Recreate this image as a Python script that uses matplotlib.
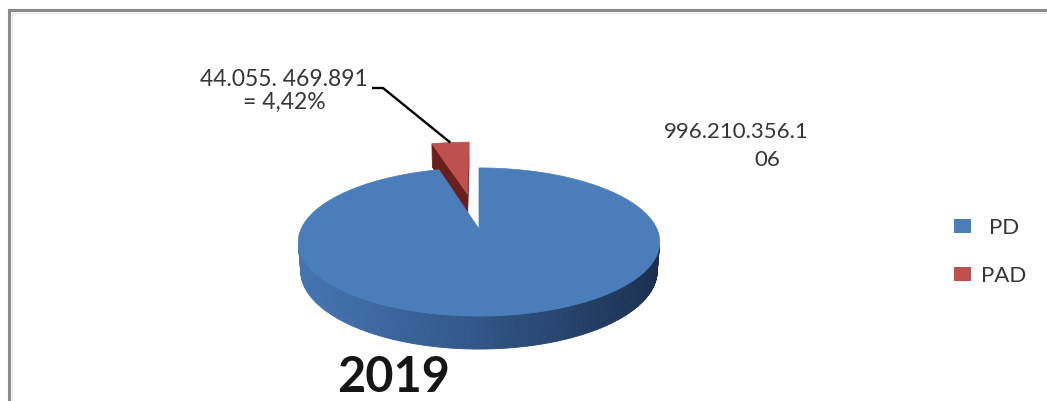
"""
3D pie chart: PD vs PAD (2019)
"""
import numpy as np
import matplotlib
matplotlib.use("Agg")
import matplotlib.pyplot as plt
from matplotlib.patches import Polygon, Rectangle
from matplotlib.colors import to_rgb

# ── data ──
categories = ["PD", "PAD"]
values = [996210356106, 44055469891]
value_labels = ["996.210.356.1", "06"]
pad_label = "44.055. 469.891\n= 4,42%"
explode = [0.0, 0.54]
top_colors = ["#4a7dba", "#c0504d"]
cut_colors = ["#2c4f80", "#6a1f1e"]
title = "2019"

# ── camera (perspective like Excel 3D pie) ──
ELEV = np.deg2rad(23.8)
DIST = 5.21
FOCAL = 927
CX, CY = 479, 230
DEPTH = 0.177
CAM = np.array([0.0, -DIST * np.cos(ELEV), DIST * np.sin(ELEV)])

plt.rcParams["font.family"] = ["Lato", "DejaVu Sans"]
TXT = "#363636"


def project(X, Y, Z):
    c, s = np.cos(ELEV), np.sin(ELEV)
    X, Y, Z = np.asarray(X, float), np.asarray(Y, float), np.asarray(Z, float)
    d = Y * c - Z * s + DIST
    v = Y * s + Z * c
    return CX + FOCAL * X / d, CY - FOCAL * v / d


def wall_color(f):
    stops = [(0.0, (70, 117, 178)), (0.45, (51, 89, 140)), (1.0, (27, 48, 80))]
    for (f0, c0), (f1, c1) in zip(stops[:-1], stops[1:]):
        if f <= f1:
            t = (f - f0) / (f1 - f0)
            return tuple((np.array(c0) + t * (np.array(c1) - np.array(c0))) / 255)
    return tuple(np.array(stops[-1][1]) / 255)


fig = plt.figure(figsize=(10.47, 4.02), dpi=100)
ax = fig.add_axes([0, 0, 1, 1])
ax.set_xlim(0, 1047)
ax.set_ylim(402, 0)
ax.axis("off")

# slice angles: start at 12 o'clock, clockwise (like Excel)
total = float(sum(values))
slices = []
cur = 90.0
for i, v in enumerate(values):
    a0 = cur - 360.0 * v / total
    a1 = cur
    cur = a0
    mid = np.deg2rad((a0 + a1) / 2)
    ox, oy = explode[i] * np.cos(mid), explode[i] * np.sin(mid)
    slices.append(dict(i=i, a0=a0, a1=a1, ox=ox, oy=oy, mid=mid))

# far slices first
slices.sort(key=lambda s: -s["oy"])

for sl in slices:
    i, ox, oy = sl["i"], sl["ox"], sl["oy"]
    t = np.deg2rad(np.linspace(sl["a0"], sl["a1"], 400))

    # radial cut faces
    for a, sign in ((sl["a0"], 1), (sl["a1"], -1)):
        ar = np.deg2rad(a)
        n = sign * np.array([np.sin(ar), -np.cos(ar), 0.0])
        if n @ (CAM - np.array([ox, oy, 0.0])) > 0:
            X = [ox, ox + np.cos(ar), ox + np.cos(ar), ox]
            Y = [oy, oy + np.sin(ar), oy + np.sin(ar), oy]
            Z = [0, 0, -DEPTH, -DEPTH]
            sx, sy = project(X, Y, Z)
            ax.add_patch(Polygon(np.c_[sx, sy], closed=True, fc=cut_colors[i],
                                 ec=cut_colors[i], lw=0.5))

    # outer wall (visible strips only)
    px = ox + np.cos(t)
    py = oy + np.sin(t)
    vis = (np.cos(t) * (CAM[0] - px) + np.sin(t) * (CAM[1] - py)) > 0
    if vis.any():
        xt, yt = project(px, py, np.zeros_like(px))
        xb, yb = project(px, py, np.full_like(px, -DEPTH))
        xmin, xmax = xt[vis].min(), xt[vis].max()
        for k in range(len(t) - 1):
            if not (vis[k] and vis[k + 1]):
                continue
            f = ((xt[k] + xt[k + 1]) / 2 - xmin) / (xmax - xmin)
            col = wall_color(f) if i == 0 else to_rgb(cut_colors[i])
            quad = [(xt[k], yt[k]), (xt[k + 1], yt[k + 1]),
                    (xb[k + 1], yb[k + 1]), (xb[k], yb[k])]
            ax.add_patch(Polygon(quad, closed=True, fc=col, ec=col, lw=0.6))

    # top face
    X = np.r_[ox, px]
    Y = np.r_[oy, py]
    sx, sy = project(X, Y, np.zeros_like(X))
    ax.add_patch(Polygon(np.c_[sx, sy], closed=True, fc=top_colors[i],
                         ec=top_colors[i], lw=0.5))

# ── data labels ──
pad = [s for s in slices if s["i"] == 1][0]
ex, ey = project(pad["ox"] + np.cos(pad["mid"]), pad["oy"] + np.sin(pad["mid"]), 0.0)
ax.text(284, 91, pad_label, ha="center", va="center", fontsize=16.5,
        color=TXT, linespacing=1.1)
ax.plot([372, 383, float(ex)], [89, 89, float(ey)], color="black", lw=1.7,
        solid_capstyle="butt")

ax.text(736, 132, value_labels[0], ha="center", va="center", fontsize=16, color=TXT)
ax.text(767, 160, value_labels[1], ha="center", va="center", fontsize=16, color=TXT)

# ── legend ──
for k, (name, col) in enumerate(zip(categories, top_colors)):
    y = 227 + k * 48
    ax.add_patch(Rectangle((954, y - 7), 17, 14, fc=col, ec="none"))
    ax.text(1004, y + 1, name, ha="center", va="center", fontsize=16, color=TXT)

# ── title ──
ax.text(394, 378, title, ha="center", va="center", fontsize=35,
        fontweight="bold", color="#161616")

# ── frame (cut off at right / bottom) ──
ax.plot([9, 9, 1047], [402, 11, 11], color="#8a8a8a", lw=2.2,
        solid_joinstyle="miter")
ax.plot([11.5, 11.5, 1047], [402, 13.5, 13.5], color="#e6e6e6", lw=1.0)

fig.savefig("out.png", dpi=100)
